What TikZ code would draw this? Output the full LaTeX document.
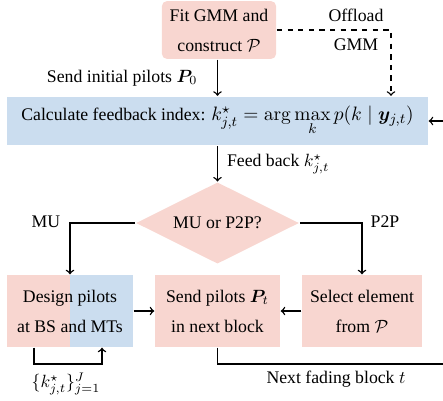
\documentclass[tikz,border=0pt]{standalone}
\usepackage{amsmath, amssymb, bm}
\usepackage[no-math]{fontspec}
\setmainfont{Liberation Serif}
\usetikzlibrary{shapes.geometric}
\definecolor{boxpink}{RGB}{248,214,208}
\definecolor{boxblue}{RGB}{203,221,239}

\begin{document}
\begin{tikzpicture}
            [x=0.564pt, y=-0.564pt, >=to, thick, inner sep=0pt,
             pinkbox/.style={shape=rectangle, fill=boxpink, draw=none, align=center, minimum height=40.6pt},
             bluebox/.style={shape=rectangle, fill=boxblue, draw=none, align=center},
             lbl/.style={draw=none, inner sep=0pt}]
            \clip (0, 0) rectangle (443, 401);

            \node[pinkbox, rounded corners=3pt, minimum width=64.5pt, minimum height=32.7pt] (fit) at (219, 30) {Fit GMM and\\[5pt] construct $\mathcal{P}$};
            \node[bluebox, minimum width=237.4pt, minimum height=27.6pt] (calc) at (217.5, 121) {Calculate feedback index: {\fontsize{11.2pt}{13pt}\selectfont $k^\star_{j,t} = \arg\max\limits_k p(k \mid \boldsymbol{y}_{j,t})$}};
            \node[shape=diamond, fill=boxpink, shape aspect=2, minimum width=92pt, minimum height=46pt] (dec) at (217.5, 223) {MU or P2P?};
            \node[pinkbox, minimum width=71pt, path picture={\fill[boxblue] (path picture bounding box.north) rectangle (path picture bounding box.south east);}] (design) at (70, 311) {Design pilots\\[5pt] at BS and MTs};
            \node[pinkbox, minimum width=70.5pt] (send) at (217.5, 311) {Send pilots $\boldsymbol{P}_t$\\[5pt] in next block};
            \node[pinkbox, minimum width=67.7pt] (select) at (362, 311) {Select element\\[5pt] from $\mathcal{P}$};

            \node[lbl] (offload) at (356, 15) {Offload};
            \node[lbl] (gmm) at (356, 45) {GMM};
            \node[lbl] (mu) at (46, 222) {MU};
            \node[lbl] (p2p) at (385, 222) {P2P};
            \node[lbl] (kset) at (66, 384) {$\{k^\star_{j,t}\}_{j=1}^J$};
            \node[lbl] (nextblk) at (336, 379) {Next fading block $t$};

            \coordinate (offl) at (391, 30);
            \coordinate (la) at (34, 364);
            \coordinate (lb) at (102, 364);
            \coordinate (nb) at (217.5, 364);
            \coordinate (fr) at (452, 364);

            \path [->] (fit.south -| calc.north) edge node[lbl, left=11pt] {Send initial pilots $\boldsymbol{P}_0$} (calc.north);
            \draw [->, dashed] (fit.east) -| (calc.north -| offl);
            \path [->] (calc.south) edge node[lbl, right=5pt] {Feed back $k^\star_{j,t}$} (dec.north);
            \draw [->] (dec.west) -| (design.north);
            \draw [->] (dec.east) -| (select.north);
            \path [->] (design.east) edge (send.west);
            \path [->] (select.west) edge (send.east);
            \draw [->] (design.south -| la) -- (la) -- (lb) -- (design.south -| lb);
            \draw [->] (send.south) -- (nb) -- (fr) |- (calc.east);
        \end{tikzpicture}
\end{document}
